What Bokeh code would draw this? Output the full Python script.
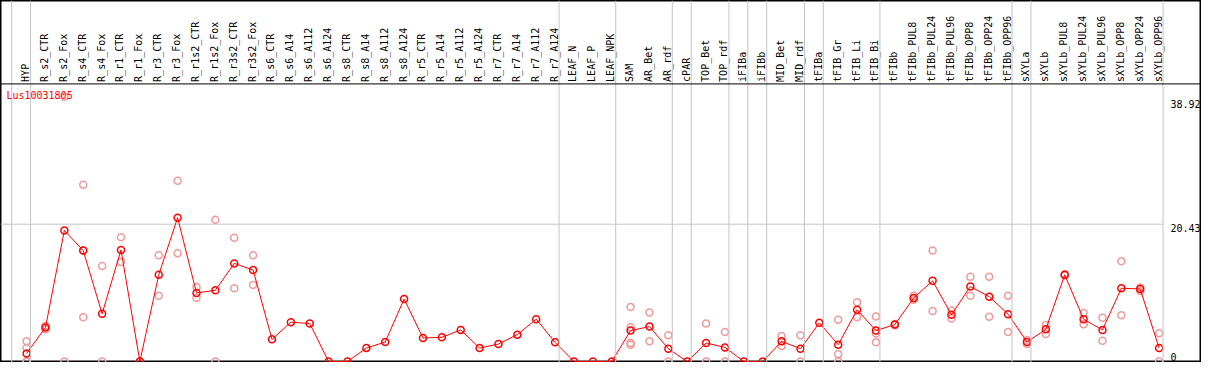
from math import pi
from bokeh.plotting import figure
from bokeh.models import Range1d, Span, ColumnDataSource, Grid
from bokeh.core.properties import value
from bokeh.embed import file_html
from bokeh.resources import INLINE

gene = "Lus10031805"

categories = [
    "HYP", "R_s2_CTR", "R_s2_Fox", "R_s4_CTR", "R_s4_Fox", "R_r1_CTR", "R_r1_Fox",
    "R_r3_CTR", "R_r3_Fox", "R_r1s2_CTR", "R_r1s2_Fox", "R_r3s2_CTR", "R_r3s2_Fox",
    "R_s6_CTR", "R_s6_A14", "R_s6_A112", "R_s6_A124", "R_s8_CTR", "R_s8_A14",
    "R_s8_A112", "R_s8_A124", "R_r5_CTR", "R_r5_A14", "R_r5_A112", "R_r5_A124",
    "R_r7_CTR", "R_r7_A14", "R_r7_A112", "R_r7_A124", "LEAF_N", "LEAF_P", "LEAF_NPK",
    "SAM", "AR_Bet", "AR_rdf", "cPAR", "TOP_Bet", "TOP_rdf", "iFIBa", "iFIBb",
    "MID_Bet", "MID_rdf", "tFIBa", "tFIB_Gr", "tFIB_Li", "tFIB_Bi", "tFIBb",
    "tFIBb_PUL8", "tFIBb_PUL24", "tFIBb_PUL96", "tFIBb_OPP8", "tFIBb_OPP24", "tFIBb_OPP96",
    "sXYLa", "sXYLb", "sXYLb_PUL8", "sXYLb_PUL24", "sXYLb_PUL96", "sXYLb_OPP8",
    "sXYLb_OPP24", "sXYLb_OPP96",
]

means = [
    1.2, 5.07, 19.5, 16.5, 7.1, 16.6, 0.0, 12.9, 21.4, 10.2, 10.6, 14.6, 13.6,
    3.3, 5.85, 5.65, 0.0, 0.0, 2.0, 2.9, 9.3, 3.5, 3.6, 4.7, 2.0, 2.6, 4.0, 6.3, 2.85,
    0.0, 0.0, 0.0, 4.6, 5.2, 1.9, 0.0, 2.75, 2.1, 0.0, 0.0, 3.0, 1.9, 5.75, 2.5, 7.7,
    4.6, 5.5, 9.46, 12.0, 6.95, 11.15, 9.65, 7.05, 2.9, 4.8, 12.9, 6.3, 4.7, 10.9,
    10.8, 2.0,
]

replicates = [
    [3.0, 2.0, 0.0, 0.0], [5.3, 4.8], [39.4, 0.0], [26.3, 6.6, 16.5], [14.2, 0.0],
    [18.5, 14.8], [0.0], [15.8, 9.8], [26.9, 16.1], [11.1, 9.5], [21.1, 0.0],
    [18.4, 10.9], [15.8, 11.4],
    [], [], [], [], [], [], [], [], [], [], [], [], [], [], [], [],
    [], [], [],
    [8.1, 5.1, 2.75, 2.5], [7.3, 3.0], [3.9, 0.0], [], [5.65, 0.0], [4.4, 0.0],
    [], [], [3.8, 2.3], [3.9, 0.0], [], [6.2, 1.1, 0.0], [8.8, 6.6],
    [6.7, 4.2, 2.85], [5.6, 5.4], [9.2, 9.8], [16.5, 7.5], [7.6, 6.4],
    [12.6, 9.8], [12.6, 6.65], [9.8, 4.4], [2.6, 3.2], [5.45, 4.1], [13.0, 12.8],
    [7.2, 5.55], [6.5, 3.1], [14.9, 6.9], [11.0, 10.5], [4.2, 0.0],
]

# index of the last column in each group (-1 = before the first column)
group_ends = [-1, 0, 28, 31, 34, 35, 37, 38, 39, 41, 42, 45, 52, 53, 60]

y_ticks = [0, 20.43, 38.92]
y_tick_labels = ["0", "20.43", "38.92"]

FONT = value("DejaVu Sans Mono")
RED = "#ff0000"
PINK = "#ee9a9a"
GRAY = "#c4c4c4"

xs = list(range(len(categories)))

p = figure(
    width=1201, height=362,
    x_range=Range1d(-1.384, 62.247), y_range=Range1d(-0.146, 53.71),
    x_axis_location=None, y_axis_location=None,
    toolbar_location=None, output_backend="svg", min_border=0,
    background_fill_color="white", border_fill_color="white",
    outline_line_color="black", outline_line_width=2,
)
# remove any default grids
p.renderers = [r for r in p.renderers if not isinstance(r, Grid)]
p.center = [r for r in p.center if not isinstance(r, Grid)]

# group separators (full height)
for g in group_ends:
    p.add_layout(Span(location=g + 0.21, dimension="height",
                      line_color=GRAY, line_width=1))

# horizontal grid line at the middle tick
p.segment(x0=[-1.384], y0=[y_ticks[1]], x1=[len(categories) - 1 + 0.21],
          y1=[y_ticks[1]], line_color=GRAY, line_width=1)

# header separator
header_line = 41.30
p.add_layout(Span(location=header_line, dimension="width",
                  line_color="black", line_width=1))

# column labels (vertical)
p.text(x=xs, y=[header_line + 0.3] * len(xs), text=categories, angle=pi / 2,
       text_align="left", text_baseline="middle", x_offset=-1,
       text_font=FONT, text_font_size="10px", text_color="black")

# replicate points
rx, ry = [], []
for i, reps in enumerate(replicates):
    for v in reps:
        rx.append(i)
        ry.append(v)
p.scatter(x=rx, y=ry, marker="circle", size=7, fill_color=None,
          line_color=PINK, line_width=1.5)

# mean line and points
src = ColumnDataSource(data=dict(x=xs, y=means))
p.line("x", "y", source=src, line_color=RED, line_width=1)
p.scatter("x", "y", source=src, marker="circle", size=7, fill_color=None,
          line_color=RED, line_width=1.5)

# title
p.text(x=[-1.07], y=[39.6], text=[gene], text_align="left", text_baseline="middle",
       text_font=FONT, text_font_size="10px", text_color=RED)

# y tick labels on the right
p.text(x=[60.6, 60.6], y=y_ticks[1:], text=y_tick_labels[1:], text_align="left",
       text_baseline="top", text_font=FONT, text_font_size="10px", text_color="black")
p.text(x=[60.6], y=y_ticks[:1], text=y_tick_labels[:1], text_align="left",
       text_baseline="bottom", y_offset=-1,
       text_font=FONT, text_font_size="10px", text_color="black")

open("out.html", "w").write(file_html(p, INLINE))
